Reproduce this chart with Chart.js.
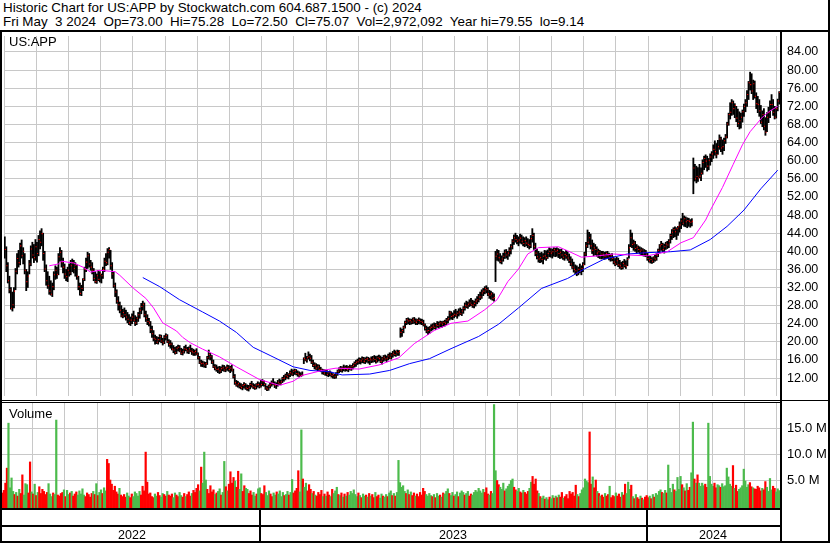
<!DOCTYPE html>
<html>
<head>
<meta charset="utf-8">
<script src="https://cdn.jsdelivr.net/npm/chart.js@4.4.1/dist/chart.umd.min.js"></script>
<style>
body { margin:0; background:#fff; }
#wrap { position:relative; width:830px; height:543px; overflow:hidden; background:#fff;
        font-family:'Liberation Sans', Arial, sans-serif; color:#000; }
canvas { position:absolute; left:0; }
.ln { position:absolute; background:#000; }
.txt { position:absolute; white-space:pre; }
</style>
</head>
<body>
<div id="wrap">
  <canvas id="price" width="830" height="368" style="top:32px"></canvas>
  <canvas id="vol" width="830" height="105" style="top:403px"></canvas>
  <div class="txt" id="head" style="left:3px;top:1px;font-size:13.4px;line-height:14px;"></div>
  <div class="txt" id="sym" style="left:9px;top:34px;font-size:13px;line-height:15px;"></div>
  <div class="txt" style="left:9px;top:406px;font-size:13px;line-height:15px;">Volume</div>
  <div class="ln" style="left:0;top:30px;width:830px;height:2px"></div>
  <div class="ln" style="left:0;top:30px;width:2px;height:513px"></div>
  <div class="ln" style="left:828px;top:0;width:2px;height:543px"></div>
  <div class="ln" style="left:780px;top:30px;width:2px;height:513px"></div>
  <div class="ln" style="left:0;top:400px;width:830px;height:1px"></div>
  <div class="ln" style="left:0;top:402px;width:780px;height:1px"></div>
  <div class="ln" style="left:0;top:508px;width:780px;height:2px"></div>
  <div class="ln" style="left:0;top:525px;width:780px;height:2px"></div>
  <div class="ln" style="left:0;top:541px;width:830px;height:2px"></div>
  <div id="years"></div>
</div>
<script>
// daily bars, May 2022 -> May 3 2024
var highs = [
43.2,41,37.5,34.5,32,31,32,36.2,39.5,40.2,
41.8,42.5,40.8,39.5,36,35.5,38,41.2,42,41.5,
42.6,42,43.5,44.5,45,44,40,37,35.5,34.5,
33.5,33,35.5,36.8,36.5,39.5,40.8,40.2,38.5,37.2,
36,36.5,37.2,38,38.3,38,37.5,37,34.5,33,
32.5,34,36.5,38.5,39.8,39.5,38,37.5,36.2,35.5,
35,35.8,35.5,35,36.5,38.5,39.5,40.6,40.8,40.2,
37.5,35.5,33,31.5,30,28.8,28,27.2,27.5,27,
26.5,26,25.5,26.2,26.8,25.8,25.5,26.5,27.5,28.5,
29,28.6,26.8,26,25.2,24.5,23.5,22.5,21.5,21.2,
21,21.6,21.5,20.8,21.4,21.8,21.6,20.5,20.3,19.8,
19.2,18.8,19,19.3,19.2,18.6,18.4,19,19.3,18.8,
18.9,19.3,18.6,18.4,18.2,18.5,17.6,16.8,16,15.8,
15.6,15.5,16.8,18.2,17.5,17,16,15,14.9,14.5,
14.6,14.5,14.9,14.8,14.5,14.9,14.8,14.6,14.9,14,
12.8,11.5,11.3,11,10.8,10.6,11,10.8,10.5,10.4,
10.9,11.3,10.8,10.6,10.8,11.2,11,11.5,11.7,11.4,
10.8,10.2,10.5,11,11.4,11.9,11.2,11,11.5,11.8,
11.6,12.2,12.6,12.9,13.3,13,13.6,14,13.8,14,
13.9,13.6,13.4,13.2,13.4,16.5,17.5,16.8,17.8,17.3,
17,16,15.4,15.2,15,14.9,14.4,14,13.9,13.8,
13.7,13.5,13.6,13.3,13,12.9,13.2,13.8,14.3,14.6,
14.5,14.9,14.7,14.8,14.6,14.9,14.8,15.2,15.6,15.9,
16.2,16.5,16.4,16.7,16.6,16.5,16.7,16.6,16.4,16.7,
16.8,17,16.8,16.9,17.1,16.9,16.6,17,17.1,16.9,
17.3,17.6,17.5,17.9,18.2,18,18.2,18.1,23.1,22.8,
23.5,24.6,25.2,25.3,25.1,25,25.3,25.4,25.1,25,
25.3,25.1,25,24.8,24,23.5,23.2,23.4,23.8,24,
24.2,24.1,24.5,24.4,24.6,24.5,24.6,24.8,25.2,25.6,
26.8,26.7,26.4,26.9,27.2,26.8,27.3,27.5,27.2,27.8,
28.6,29,28.8,29.3,29.6,29.2,29,29.5,30,30.5,
31,31.5,31.8,32.2,32.4,32,31.4,31.2,30.9,30.6,
40,40.4,40.2,39.5,39,39.6,40.3,40.4,40,40.8,
41.5,42.6,43.6,44,43.5,43.2,43.8,43.6,43.2,43,
43.2,42.8,42.6,43.5,45,44,41.8,40.5,40,39.6,
39.8,39.5,40.2,40.1,40.3,40.8,40.6,40.5,40.8,40.7,
40.8,40.6,40.4,40.5,40,39.8,40.2,39.9,39.4,38.8,
38.3,37.6,37,36.8,36.5,37.2,36.8,37.5,39.8,42,
44.7,44.2,43.8,42.5,41.8,41.5,41,40.5,40.2,40,
40,39.8,39.9,40,39.6,39.4,39.5,38.8,38.4,38.7,
38.5,38,37.6,37.8,38.2,37.9,38.6,41.5,44.7,44,
42.5,42.2,41.5,41.2,41,40.8,40.6,40.4,40.2,39.6,
39,38.9,38.6,38.8,39.2,39.5,40.5,41.5,42.2,41.8,
41.6,42,42.2,42.6,43.8,44.8,45.2,45.4,45.2,45.5,
46.5,47.2,48.4,47.8,47.6,47.4,47.3,47,47.2,60.6,
59.2,58.8,58.5,59.2,58.4,60.2,61,61.3,61,60.5,
61.5,62,63.5,64.4,63.8,64.5,65.7,65.2,64.6,65,
65.8,68.5,70.5,72.8,73.5,73.2,72.6,72,71.4,70.8,
70.5,71.2,72.5,73.5,75.5,77.5,79.55,79.2,77.8,77.6,
75,74.2,73.5,72.2,71,71.5,69.5,70.6,71.8,73.2,
74.6,73.5,72,71.8,73.6,75.28
];
var lows = [
38.5,35.5,33,30.8,27.2,26.8,27.5,31.5,35,36.5,
37,38.5,37.2,35,31.3,32,35,36.8,38.5,37.5,
38,37.6,39,40.5,41.2,38,35.5,32.5,31.8,30.5,
30.3,30,31.5,33.8,34,34.8,37.8,36.5,35.2,34,
33.5,33.3,34.5,34.8,35.5,35.2,34.5,33.8,31.5,30.3,
30.2,31.3,33.5,35.5,36.2,36.5,35.8,35,33.5,33,
32.9,33.5,33.2,33,34,35.5,36.8,37,38.5,36,
34,32,30,28.5,27,26.4,25.5,25.3,25.5,24.8,
24.2,23.8,23.6,24,24.5,23.6,23.8,24.5,25.2,26.2,
27,25.5,24.5,23.8,23.5,22,21,20.2,19.5,19.6,
19.5,20,19.8,19.3,19.6,20.4,19.8,19,18.6,18.2,
17.6,17.3,17.4,18,17.8,17.2,17.1,17.5,18,17.5,
17.4,17.8,17.2,17,17,17.1,16.2,15.2,14.6,14.5,
14.4,14.3,15,16.2,16,15.2,14.3,13.8,13.5,13.2,
13,13.2,13.6,13.5,13.4,13.7,13.5,13.2,13.5,12,
10.6,10.2,10,9.8,9.6,9.4,9.8,9.5,9.3,9.14,
9.6,10,9.7,9.5,9.6,10,9.8,10,10.3,10.2,
9.5,9.2,9.3,9.8,10.2,10.5,9.9,9.7,10.2,10.6,
10.5,11,11.3,11.6,12,11.8,12.3,12.6,12.5,12.8,
12.7,12.4,12.3,12.3,12.5,15.2,15.8,15.5,16.2,15.8,
15.2,14.5,14,13.9,13.6,13.6,13.4,12.9,12.8,12.6,
12.5,12.3,12.5,12.2,12,11.9,12,12.6,13.2,13.4,
13.3,13.6,13.5,13.6,13.4,13.8,13.7,14,14.4,14.6,
15,15.2,15.1,15.4,15.3,15.2,15.5,15.3,15,15.4,
15.5,15.6,15.3,15.5,15.8,15.4,15.1,15.7,15.9,15.6,
16,16.3,16.2,16.6,16.9,16.8,17,17,21,21.2,
22,23,23.8,24,23.8,23.9,24,24.1,23.8,23.8,
24,23.9,23.8,23.5,22.6,22,21.6,21.9,22.4,22.6,
22.9,22.7,23.2,23,23.3,23.2,23.4,23.5,23.8,24.2,
24.8,25,24.9,25.3,25.6,25.2,25.7,26,25.8,26.3,
27,27.5,27.4,27.8,28,27.6,27.5,27.9,28.4,28.8,
29.3,29.6,30.2,30.6,30.8,30.2,29.6,29.4,29.2,29,
33.3,38,37.8,37.4,37.2,37.8,38.4,38.5,38.2,38.9,
39.4,40.5,41.5,42,41.6,41.2,41.8,41.6,41.2,41,
41.2,40.8,40.5,40.8,42,40.4,39,38.3,37.6,37.5,
37.6,37.2,38.2,38,38.4,38.8,38.7,38.5,38.9,38.8,
38.9,38.6,38.4,38.5,38.2,38,38.4,38,37.5,36.8,
36.2,35.4,35,34.6,34.8,35.2,34.8,35.5,37,39,
40.8,41.5,40.5,39.5,39,39.2,38.9,38.6,38.4,38.3,
38.4,38.2,38.3,38.5,38.1,37.8,37.9,37.2,36.8,37,
36.6,36.2,36,36.1,36.5,36.2,36.8,38.5,41,40.8,
40.2,40,39.5,39.8,39.4,39.2,39,38.9,38.8,38,
37.6,37.4,37.3,37.5,37.8,38,38.8,39.6,40.2,39.8,
39.6,40.4,40.6,40.8,41.8,42.6,43,43.2,42.6,43.5,
44.2,45,45.8,45.5,45.4,45.2,45.5,45.3,45.6,52.7,
55.5,55.1,55.4,56.2,55.6,57,58,58.5,57.7,58,
59,59.8,60.5,61.2,60.6,61.4,62.5,62,61.4,62.2,
63.8,65,67.8,69.2,70,70.2,69.5,68.6,67.5,67,
67.2,68.5,69.8,70.8,72,73.5,75.6,74.8,73.5,73.8,
71.5,70.6,69.8,68.2,67.5,66.8,65.6,66.4,68.4,69.5,
71.2,70,69.2,69.4,71,72.5
];
var closes = [
40.4,36.8,33.5,31.5,27.4,28.2,31.2,35.6,38.4,37.5,
41.2,39,40,35.8,33.3,34.5,37.2,40.5,39.2,38.6,
41,39.5,42.6,42,43.9,39.5,36.1,33.5,32.4,31.2,
30.5,32.2,34.8,35.8,34.9,38.8,39.8,37.6,36.5,35,
34.4,35.8,35.2,36.8,37.5,36.2,36.9,34.5,32.2,30.7,
31.8,33.8,36,37.6,39,37.2,36.5,35.8,34,33.3,
34.6,33.8,35,34.6,36,37.8,37.5,39.8,40.4,36.8,
35,32.4,31,29,28.2,27,25.7,26.5,26,25.5,
25,24.2,24.8,25.5,24.8,24.2,25.2,26,27,27.8,
28.3,26,25.2,24.5,24.2,22.7,21.8,20.8,20.6,19.9,
20.5,21.2,20.2,19.8,21,21.4,20,19.4,19.5,18.4,
18.2,17.6,18.6,18.8,18,17.5,17.8,18.5,18.3,18,
18.5,18,17.8,17.6,17.9,17.3,16.5,15.5,15.2,15.3,
14.9,15.2,16.5,17.2,16.7,15.5,14.5,14.2,13.9,14,
13.6,14.1,14.3,13.8,14.2,14.4,13.9,14.2,13.8,12.3,
11,10.5,10.8,10.2,9.9,10.4,10.6,9.8,9.7,10,
10.6,10.3,10.1,9.9,10.5,10.6,10.2,10.6,11.2,10.6,
9.8,9.6,10.2,10.5,10.9,10.7,10.4,10.6,11.1,10.8,
11.2,11.9,12,12.5,12.3,12.8,13.2,12.9,13.5,13.7,
13,12.9,12.6,12.5,12.7,16.3,16,16.5,16.7,16.4,
15.5,14.8,14.9,14.2,14.5,13.9,13.8,13.4,13.1,13.5,
12.8,13.2,12.9,12.6,12.8,12.3,12.9,13.5,14,13.8,
14.2,14,14.3,13.9,14.4,14.1,14.5,14.8,15.2,15.5,
15.6,16,15.8,16.2,15.7,16.1,16.3,15.9,16.2,16,
16.4,16.1,15.8,16.5,16.3,15.7,16.2,16.6,16.2,16.4,
16.9,16.5,17.1,17.5,17.2,17.8,17.6,17.9,22.1,22.5,
23.2,24.3,24.9,24.6,24.7,24.4,25,24.6,24.3,24.8,
24.7,24.5,24.3,23.8,23,22.4,22.5,23,23.2,23.5,
23.2,23.8,23.6,24,24.2,23.9,24.3,24.1,24.8,25.1,
26.4,25.6,25.8,26.1,25.9,26.3,26.6,26.2,26.8,27.4,
28.1,27.9,28.3,28.6,28.2,28.1,28.5,29,29.3,29.9,
29.9,30.8,31.2,31.8,31.5,30.6,30.3,30.6,29.6,29.8,
38.9,39.4,38.6,37.8,38.3,38.9,39.8,39.2,39.6,40.2,
41,42.2,43,42.6,42.2,42.5,42.9,42.2,41.7,42.4,
41.8,41.5,41.3,42.8,43.5,41.1,39.6,38.8,38.3,38.6,
38.2,38.9,39,38.6,39.5,40,39.6,39.9,40.4,40,
40.2,39.5,39.8,39.2,38.7,39.3,39,38.5,38,37.2,
36.5,36,35.7,35.2,36,35.6,36.2,37,39.4,41.2,
42,43,41.2,40.2,40.8,40.4,39.6,39.9,39,39.4,
39.2,38.8,39.5,39,38.6,39,38.4,37.6,37.2,37.9,
37,36.8,36.4,37.3,36.9,36.7,38.2,40.8,43,41.5,
41.8,40.6,40.9,40.4,40,40.3,39.6,39.8,39.2,38.4,
37.9,38.2,37.8,38.5,38.3,39.1,40.2,41.2,41.5,40.4,
41,41.6,41.4,42.2,43.5,44.2,44.8,44.3,45,45.4,
45.8,46.7,46.2,47.2,46.5,46.8,46.6,46.4,46.6,58.4,
56,56.5,56.2,56.6,57.2,59.6,60.5,59.9,58.8,60.1,
60.8,61.5,62.5,62,61.3,63.1,64.8,62.8,63.1,64.4,
65.2,68.1,70.2,70.7,72.8,71.5,72.2,69.4,68.2,68.8,
69.6,70.8,72,72.8,74.6,77.2,76.8,75.4,77,74.2,
72.6,72.4,71,68.5,70.2,67.6,66.3,69.6,70.6,72.4,
72.4,70.7,69.6,71.5,73.2,75.07
];
// millions of shares
var volumes = [
3.2,2.5,3,4.4,7.3,16,3.5,5.4,2.8,2.2,
2.6,1.9,3.2,2.4,6,2.1,4.3,4.1,2.5,8.5,
2.7,2.3,4.2,2,2.6,3.7,2.4,3.2,2.8,2.2,
2.6,4.3,2.3,1.8,2.5,2.2,16.6,2.1,1.9,2.4,
2.6,3.1,1.8,3,2.2,2.5,2.8,1.9,2.3,2.7,
2.1,2.9,2.3,3.3,2.1,1.8,2.5,2.2,1.7,2.4,
2.8,2.2,4.3,2,2.6,3.1,2.4,3.5,2.9,9,
8.2,5,4.2,3,3.8,2.7,2.3,3.4,2.1,1.8,
2.2,1.7,2.5,1.9,1.6,2.3,1.8,2.7,2.4,1.9,
2.8,2.1,3.8,2.9,10.4,4.6,2.3,2.5,1.8,1.6,
2.3,1.9,2.6,2,1.7,2.4,2.2,1.9,2.8,2.1,
1.9,2.3,1.6,2.5,2.1,1.8,2.6,2,1.7,2.4,
1.8,2.2,2.7,1.9,2.4,3,2.6,3.4,4.1,2.9,
7.5,4.4,10.4,5,3.2,2.4,3.9,2.7,3.1,2.2,
2.5,2.8,3.3,2.1,2.6,8.6,3.7,2.9,4.2,6.6,
4.4,5.5,4.8,3.6,6.7,3.2,6.2,2.8,3.9,3.4,
3.2,2.4,2.9,2.1,2.6,1.9,2.3,3.3,3.5,2.4,
2.2,3.9,2.6,2,2.9,2.3,1.8,2.5,2.1,2.7,
2.3,2.9,1.8,2.6,2,2.2,2.8,2.1,2.6,5.1,
2.5,2.9,3.4,6.8,2.7,14.7,5.2,3.6,4.4,2.9,
4.1,3.2,2.4,2.8,2.1,1.9,2.6,2.2,3,1.8,
2.3,1.9,2.7,2.1,1.8,3.2,2.4,2.9,3.6,2.2,
2,2.5,1.7,2.3,1.9,2.6,2.1,2.8,2.4,3.1,
2.2,1.8,2.5,2,1.6,2.3,1.9,2.1,1.7,2.4,
1.9,2.2,1.6,2.6,1.8,2.1,1.5,2.3,1.9,1.7,
2.2,1.8,2.5,2.9,2,2.4,1.9,2.6,8.8,4.5,
3.6,3.9,2.8,2.4,3.1,2.2,2.7,2,2.5,1.9,
2.3,1.8,2.6,2.1,3.4,2.8,2.2,1.9,2.4,2,
1.8,2.2,1.6,2.4,1.9,2.1,1.7,2.5,2.3,2.8,
3.3,2.4,2,2.6,1.9,2.2,2.7,1.8,2.5,2.9,
2.6,2.1,2.4,2.8,1.9,2.3,2.1,2.6,3,2.7,
3.4,2.9,2.5,3.2,2.6,3.5,2.3,2.1,2.8,2.4,
19.6,6.8,4.9,4.1,3.6,3.2,4.4,2.9,3.3,3.8,
4.2,4.9,5.2,3.6,3.1,2.8,3.4,2.7,2.5,3,
2.6,2.3,2.8,3.4,4.6,5.7,4.2,5.2,2.9,2.4,
1.8,1.5,1.9,1.3,1.6,1.2,1.7,1.4,2,1.5,
1.9,1.6,2.1,1.7,2.6,1.5,1.8,2.2,1.4,2.8,
2.3,2.6,1.9,4,2.2,1.8,2.4,3.1,3.5,5.2,
4.8,4.5,14.3,4.2,5.6,3.5,5,2.8,2.4,1.9,
2.1,1.7,2.4,1.9,2.2,3.8,1.6,2,1.8,2.5,
1.9,2.3,1.7,2.6,2.1,4.2,2.4,4.6,3.2,4,
1.8,1.4,2.2,1.6,1.3,1.9,1.5,1.2,1.7,2,
1.6,1.9,1.4,2.2,1.7,2.4,2.1,2.8,3.1,2.6,
2.4,3,2.5,7.9,3.4,2.6,4.2,3.1,2.8,5.5,
3.2,5.7,4.1,3.5,2.9,4.3,3,3.6,6.4,16.2,
5.2,4.4,6,4.4,3.8,4.4,3.9,4.2,3.6,16,
5.7,4.2,3.8,4.4,3.5,4.1,3.9,3.6,4.3,3.7,
3.9,7.3,5.6,4.2,3.8,7.8,3.4,4,2.8,3.2,
3.5,3.9,7.1,4.8,3.6,4.1,4.5,3.7,3.5,3.3,
3.2,3.8,3.5,2.9,3.4,3.1,4.7,3.6,2.8,5.3,
3.1,3.8,3.4,2.7,3.3,2.97
];
// moving averages: bar index / value
var maFastAt  = [29,35,37,45,51,56,62,72,75,84,92,97,103,112,116,121,129,140,151,166,179,188,194,207,216,231,244,257,267,280,291,302,313,321,328,335,341,348,361,367,376,387,397,406,419,432,441,449,457,460,468,475,481,486,494,499,504];
var maFastVal = [36.8,37.2,37.8,37.4,36.5,35.4,35.8,35.5,34.7,31.8,29.6,27.5,24.2,22.4,21,19.8,18.4,16.7,14.5,11.7,10.4,11.3,12.6,13.7,14.2,14,14.9,16.5,19.6,22.5,24.1,24.6,27.1,29.3,33.3,36.1,39.4,40.8,41,40.1,38.7,39,39.4,39.2,39,39.9,41.9,43,46.9,49,54.1,59.2,63.5,66.4,69.6,71,72];
var maSlowAt  = [90,101,114,129,140,151,162,173,188,199,212,220,238,251,264,277,291,309,322,335,350,367,378,391,406,419,434,447,460,471,482,493,504];
var maSlowVal = [34.2,32.2,29.3,26.6,24.6,22.1,18.8,17,14.5,13.7,13.4,12.7,12.9,13.7,15.2,16.3,18.5,21.2,23.9,27.5,31.8,34,36.1,38.3,39.4,39.7,39.9,40.3,42.6,45.5,49.1,53.8,57.9];

var priceTicks = [12,16,20,24,28,32,36,40,44,48,52,56,60,64,68,72,76,80,84];
var volumeTicks = [5,10,15];
var yearLabels = ['2022','2023','2024'];
var yearStarts = [0,167,419];

var headLines = [
  'Historic Chart for US:APP by Stockwatch.com 604.687.1500 - (c) 2024',
  'Fri May  3 2024  Op=73.00  Hi=75.28  Lo=72.50  Cl=75.07  Vol=2,972,092  Year hi=79.55  lo=9.14'
];
var symbol = 'US:APP';

document.getElementById('head').textContent = headLines.join('\n');
document.getElementById('sym').textContent = symbol;

Chart.defaults.font.family = "'Liberation Sans', Arial, sans-serif";
Chart.defaults.color = '#000';

var GRID = '#c8c8c8', RED = '#ff0000', GREEN = '#4cbb4c';
var n = closes.length;
var gridEvery = 21;
var vTicks = [];
for (var k = -0.5; k < n; k += gridEvery) vTicks.push({ value: k });

function xScale() {
  return {
    type: 'linear', min: -0.5, max: n - 0.5, offset: false,
    ticks: { display: false },
    grid: { color: GRID, drawTicks: false, offset: false },
    border: { display: false },
    afterBuildTicks: function (s) { s.ticks = vTicks.slice(); },
    afterFit: function (s) { s.height = 0; s.paddingLeft = 0; s.paddingRight = 0; }
  };
}
function yScale(min, max, ticks, size, fmt) {
  return {
    position: 'right', min: min, max: max,
    grid: { color: GRID, drawTicks: false },
    border: { display: false },
    ticks: { padding: 7, autoSkip: false, font: { size: size }, callback: fmt },
    afterBuildTicks: function (s) { s.ticks = ticks.map(function (v) { return { value: v }; }); },
    afterFit: function (s) { s.width = 50; s.paddingTop = 0; s.paddingBottom = 0; }
  };
}
function baseOptions(y) {
  return {
    responsive: false, animation: false, events: [],
    layout: { padding: 0 },
    plugins: { legend: { display: false }, tooltip: { enabled: false } },
    scales: { x: xScale(), y: y }
  };
}

var priceChart = new Chart(document.getElementById('price'), {
  data: {
    datasets: [
      { type: 'line', data: maFastAt.map(function (x, i) { return { x: x, y: maFastVal[i] }; }),
        borderColor: '#ff00ff', borderWidth: 1, pointRadius: 0, order: 1 },
      { type: 'line', data: maSlowAt.map(function (x, i) { return { x: x, y: maSlowVal[i] }; }),
        borderColor: '#0000ff', borderWidth: 1, pointRadius: 0, order: 1 },
      { type: 'line', showLine: false, data: closes.map(function (c, i) { return { x: i + 0.4, y: c }; }),
        pointStyle: 'rect', pointRadius: 0.75, pointBackgroundColor: RED, pointBorderWidth: 0, order: 2 },
      { type: 'bar', data: closes.map(function (c, i) { return { x: i, y: [lows[i], highs[i]] }; }),
        backgroundColor: '#000', barThickness: 1.2, borderWidth: 0, order: 3 }
    ]
  },
  options: baseOptions(yScale(8.05, 87.53, priceTicks, 12.5, function (v) { return v.toFixed(2); }))
});

new Chart(document.getElementById('vol'), {
  data: {
    datasets: [
      { type: 'bar', data: volumes.map(function (v, i) { return { x: i, y: v }; }),
        backgroundColor: volumes.map(function (v, i) { return i > 0 && closes[i] < closes[i - 1] ? RED : GREEN; }),
        base: -0.41, barPercentage: 1, categoryPercentage: 1, borderWidth: 0 }
    ]
  },
  options: baseOptions(yScale(-0.41, 19.9, volumeTicks, 13, function (v) { return v.toFixed(1) + ' M'; }))
});

// year strip under the volume panel
var xs = priceChart.scales.x;
var yearsBox = document.getElementById('years');
var bounds = yearStarts.map(function (s) { return xs.getPixelForValue(s - 0.5); });
bounds.push(xs.right);
yearLabels.forEach(function (lab, k) {
  if (k > 0) {
    var sep = document.createElement('div');
    sep.className = 'ln';
    sep.style.cssText = 'left:' + Math.round(bounds[k] - 1) + 'px;top:508px;width:2px;height:35px';
    yearsBox.appendChild(sep);
  }
  var t = document.createElement('div');
  t.className = 'txt';
  t.textContent = lab;
  t.style.cssText = 'top:528px;font-size:12.5px;line-height:14px;width:60px;text-align:center;left:' +
    Math.round((bounds[k] + bounds[k + 1]) / 2 - 30) + 'px';
  yearsBox.appendChild(t);
});
</script>
</body>
</html>
